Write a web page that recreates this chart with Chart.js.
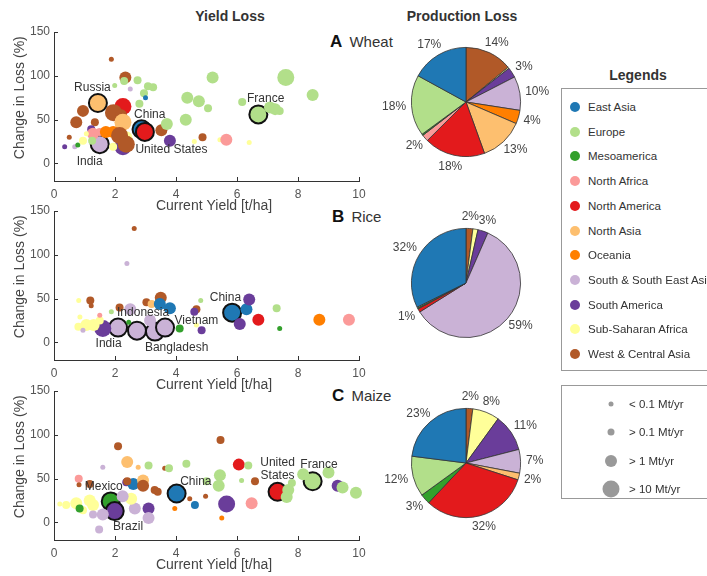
<!DOCTYPE html>
<html>
<head>
<meta charset="utf-8">
<script src="https://cdn.jsdelivr.net/npm/chart.js@4.4.0/dist/chart.umd.min.js"></script>
<style>
body { margin: 0; width: 707px; height: 576px; background: #fff; position: relative; overflow: hidden;
       font-family: "Liberation Sans", Arial, sans-serif; color: #222; }
canvas { position: absolute; }
.t { position: absolute; white-space: nowrap; transform: translate(-50%, -50%); }
.head { font-weight: bold; font-size: 14px; color: #333; }
.panel { position: absolute; white-space: nowrap; transform: translateY(-50%); font-size: 15px; color: #333; }
.panel b { font-size: 17px; color: #111; margin-right: 3px; }
.box { position: absolute; border: 1px solid #999; background: #fff; }
.item { position: absolute; white-space: nowrap; font-size: 11.5px; color: #333; transform: translateY(-50%); }
.dot { position: absolute; border-radius: 50%; transform: translate(-50%, -50%); }
</style>
</head>
<body>
<div class="t head" style="left:230px;top:16px">Yield Loss</div>
<div class="t head" style="left:462px;top:16px">Production Loss</div>
<div class="t head" style="left:638px;top:75px">Legends</div>
<div class="panel" style="left:330px;top:42px"><b>A</b> Wheat</div>
<div class="panel" style="left:332px;top:217px"><b>B</b> Rice</div>
<div class="panel" style="left:332px;top:396px"><b>C</b> Maize</div>

<canvas id="wheatScatter" width="370" height="195" style="left:0;top:20px"></canvas>
<canvas id="riceScatter" width="370" height="195" style="left:0;top:199px"></canvas>
<canvas id="maizeScatter" width="370" height="195" style="left:0;top:379px"></canvas>
<canvas id="wheatPie" width="180" height="180" style="left:376px;top:12px"></canvas>
<canvas id="ricePie" width="180" height="180" style="left:376px;top:193px"></canvas>
<canvas id="maizePie" width="180" height="180" style="left:376px;top:373px"></canvas>

<div class="box" id="regionBox" style="left:561px;top:88px;width:170px;height:281px"></div>
<div class="box" id="sizeBox" style="left:561px;top:385px;width:170px;height:112px"></div>

<script>
const regions = ['East Asia', 'Europe', 'Mesoamerica', 'North Africa', 'North America', 'North Asia',
    'Oceania', 'South & South East Asia', 'South America', 'Sub-Saharan Africa', 'West & Central Asia'];
const regionColors = ['#1f78b4', '#b2df8a', '#33a02c', '#fb9a99', '#e31a1c', '#fdbf6f',
    '#ff7f00', '#cab2d6', '#6a3d9a', '#ffff99', '#b15928'];

const sizeLabels = ['< 0.1 Mt/yr', '> 0.1 Mt/yr', '> 1 Mt/yr', '> 10 Mt/yr'];

const xTicks = [0, 2, 4, 6, 8, 10];
const yTicks = [0, 50, 100, 150];

// wheat: yield [t/ha], change in loss (%), size class 1-4, region index
const wheatYield = [1.88, 2.34, 1.99, 2.3, 2.74, 2.5, 3.08, 3.25, 2.95, 3.0, 2.8, 5.2, 7.6, 8.48, 4.37, 4.75, 5.05, 4.32,
    6.17, 7.08, 7.4, 7.25, 2.26, 1.95, 2.2, 0.95, 0.73, 1.34, 2.26, 3.52, 3.8, 3.7, 4.87, 4.6, 5.44, 5.65, 6.4, 2.26, 2.37,
    0.35, 0.5, 0.68, 0.78, 1.22, 1.28, 1.5, 1.7, 1.94, 2.15, 2.37, 1.06, 0.95, 1.94, 1.25];
const wheatLoss = [119, 98, 89, 94, 95, 85, 88, 87, 80, 75, 68, 98, 98, 78, 75, 71, 63, 50,
    70, 64, 60, 62, 65, 58, 55, 60, 47, 47, 47, 38, 26, 45, 30, 25, 27, 27, 24, 19, 30,
    19, 30, 19, 21, 39, 34, 36, 36, 36, 32, 22, 34, 26, 19, 26];
const wheatSize = [1, 3, 1, 2, 2, 1, 2, 2, 2, 1, 2, 3, 4, 3, 3, 3, 2, 3,
    2, 3, 2, 3, 4, 4, 3, 3, 3, 2, 4, 3, 3, 3, 2, 1, 1, 3, 1, 4, 3,
    1, 1, 1, 1, 2, 3, 2, 3, 3, 4, 4, 1, 2, 2, 2];
const wheatRegion = [10, 10, 1, 1, 1, 7, 1, 1, 1, 0, 1, 1, 1, 1, 1, 1, 1, 1,
    1, 1, 1, 1, 4, 10, 10, 10, 10, 10, 5, 10, 8, 1, 10, 9, 9, 3, 9, 8, 9,
    8, 10, 7, 2, 8, 3, 3, 6, 6, 10, 10, 9, 9, 9, 1];
const wheatKeyYield = [1.44, 2.87, 2.98, 1.5, 6.7];
const wheatKeyLoss = [69, 39, 36, 22, 56];
const wheatKeyRegion = [5, 0, 4, 7, 1];
const wheatNames = ['Russia', 'China', 'United States', 'India', 'France'];
const wheatNameX = [1.26, 3.14, 3.85, 1.17, 6.94];
const wheatNameY = [87, 56, 16, 2, 74];

// rice
const riceYield = [2.63, 2.39, 1.19, 1.22, 0.81, 2.15, 2.5, 3.03, 3.2, 3.5, 3.47, 3.8, 4.67, 4.6, 4.81, 6.31, 6.4, 6.09,
    6.7, 7.3, 7.4, 8.7, 9.67, 4.12, 4.84, 1.6, 1.06, 0.8, 0.85, 1.5, 0.95, 1.5, 1.88, 4.67, 2.45, 3.15, 1.3];
const riceLoss = [130, 90, 48, 42, 48, 40, 38, 46, 44, 51, 44, 39, 38, 35, 48, 38, 49, 21,
    26, 39, 16, 26, 26, 16, 14, 16, 20, 18, 29, 25, 14, 31, 35, 20, 23, 25, 20];
const riceSize = [1, 1, 2, 1, 1, 2, 3, 2, 2, 3, 3, 3, 2, 2, 1, 3, 3, 3,
    3, 2, 1, 3, 3, 2, 2, 4, 3, 2, 1, 2, 1, 1, 1, 1, 1, 3, 3];
const riceRegion = [10, 7, 10, 10, 9, 10, 7, 10, 5, 10, 0, 0, 10, 8, 1, 0, 8, 8,
    4, 1, 2, 6, 3, 2, 8, 8, 9, 9, 9, 9, 7, 3, 1, 9, 2, 7, 9];
const riceKeyYield = [2.1, 2.72, 3.31, 3.64, 5.84];
const riceKeyLoss = [17, 13.5, 12.4, 17, 34];
const riceKeyRegion = [7, 7, 7, 7, 0];
const riceNames = ['Indonesia', 'Vietnam', 'India', 'Bangladesh', 'China'];
const riceNameX = [2.92, 4.67, 1.79, 4.02, 5.62];
const riceNameY = [34, 24.4, -1, -6, 51.5];

// maize
const maizeYield = [2.1, 5.46, 2.4, 2.76, 1.6, 3.1, 3.63, 3.77, 4.34, 6.06, 6.37, 0.81, 0.82, 1.17, 2.37, 2.6, 2.92, 2.92,
    3.3, 3.4, 4.45, 4.97, 5.0, 5.44, 5.4, 4.62, 3.96, 5.5, 5.66, 6.48, 6.59, 6.15, 7.68, 7.63, 7.8, 8.17, 9.0, 9.3,
    9.46, 9.9, 3.1, 3.1, 2.65, 2.53, 1.48, 0.4, 0.73, 1.17, 1.28, 0.95, 0.84, 1.6, 1.28, 0.19, 2.4, 2.25];
const maizeLoss = [87, 94, 69, 63, 63, 65, 62, 62, 67, 66, 65, 50, 43, 44, 46, 44, 48, 42,
    37, 35, 27, 30, 47, 54, 42, 20, 16, 5, 21, 22, 47, 48, 37, 29, 45, 55, 57, 42,
    40, 34, 16, 5, 16, 27, -8, 20, 22, 25, 20, 14, 16, 9, 9, 21, 47, 30];
const maizeSize = [2, 2, 3, 1, 1, 2, 1, 2, 2, 3, 2, 2, 1, 2, 2, 3, 3, 3,
    2, 2, 1, 1, 2, 3, 3, 2, 1, 1, 4, 3, 2, 1, 3, 3, 2, 3, 3, 3,
    3, 3, 3, 3, 3, 3, 2, 2, 3, 3, 3, 2, 2, 3, 2, 1, 2, 3];
const maizeRegion = [10, 10, 5, 5, 7, 1, 10, 1, 1, 4, 1, 3, 10, 10, 8, 0, 5, 10,
    10, 10, 10, 10, 1, 1, 1, 0, 6, 6, 8, 3, 10, 1, 1, 1, 1, 1, 1, 8,
    1, 1, 8, 7, 7, 9, 7, 9, 9, 9, 9, 9, 2, 7, 7, 9, 10, 7];
const maizeKeyYield = [1.86, 1.99, 4.02, 7.33, 8.48];
const maizeKeyLoss = [24, 13, 33, 35, 47];
const maizeKeyRegion = [2, 8, 0, 4, 1];
const maizeNames = ['Mexico', 'Brazil', 'China', 'United\nStates', 'France'];
const maizeNameX = [1.63, 2.43, 4.65, 7.33, 8.69];
const maizeNameY = [40.5, -4.5, 47, 61, 66];

// production loss shares (%), in legend order
const wheatShare = [17, 18, 0.4, 2, 18, 13, 4, 10, 3, 0.4, 14];
const wheatShareText = ['17%', '18%', '', '2%', '18%', '13%', '4%', '10%', '3%', '', '14%'];
const riceShare = [32, 0.3, 0.3, 0, 1, 0, 0, 59, 3, 1.5, 2];
const riceShareText = ['32%', '', '', '', '1%', '', '', '59%', '3%', '', '2%'];
const maizeShare = [23, 12, 3, 0, 32, 2, 0, 7, 11, 8, 2];
const maizeShareText = ['23%', '12%', '3%', '', '32%', '2%', '', '7%', '11%', '8%', '2%'];

const sizeRadius = [0, 2.5, 4, 6, 8.5];
const keyRadius = 9;
const FONT = '"Liberation Sans", Arial, sans-serif';

const scatterDecor = {
    id: 'scatterDecor',
    afterDatasetsDraw(chart, args, opts) {
        const { ctx } = chart;
        const x = chart.scales.x, y = chart.scales.y;
        ctx.save();
        ctx.fillStyle = '#333';
        ctx.font = '12px ' + FONT;
        ctx.textAlign = 'center';
        ctx.textBaseline = 'middle';
        opts.names.forEach((n, i) => {
            const lines = n.split('\n');
            const px = x.getPixelForValue(opts.nameX[i]);
            const py = y.getPixelForValue(opts.nameY[i]);
            lines.forEach((l, j) => ctx.fillText(l, px, py + (j - (lines.length - 1) / 2) * 13));
        });
        ctx.restore();
    },
    afterDraw(chart) {
        const { ctx, chartArea: a } = chart;
        const x = chart.scales.x, y = chart.scales.y;
        ctx.save();
        ctx.strokeStyle = '#333';
        ctx.lineWidth = 1;
        ctx.beginPath();
        xTicks.forEach(v => {
            const px = Math.round(x.getPixelForValue(v)) + 0.5;
            ctx.moveTo(px, a.bottom);
            ctx.lineTo(px, a.bottom - 4);
        });
        yTicks.forEach(v => {
            const py = Math.round(y.getPixelForValue(v)) + 0.5;
            ctx.moveTo(a.left, py);
            ctx.lineTo(a.left + 4, py);
        });
        ctx.stroke();
        ctx.fillStyle = '#444';
        ctx.font = '14px ' + FONT;
        ctx.textAlign = 'center';
        ctx.textBaseline = 'middle';
        ctx.fillText('Current Yield [t/ha]', a.left + 160, a.bottom + 25);
        ctx.translate(20, y.getPixelForValue(75));
        ctx.rotate(-Math.PI / 2);
        ctx.fillText('Change in Loss (%)', 0, 0);
        ctx.restore();
    }
};

function makeScatter(id, xs, ys, sizes, regs, keyX, keyY, keyReg, names, nameX, nameY) {
    const points = xs.map((v, i) => ({ x: v, y: ys[i], r: sizeRadius[sizes[i]] }));
    const keys = keyX.map((v, i) => ({ x: v, y: keyY[i], r: keyRadius }));
    new Chart(document.getElementById(id), {
        type: 'bubble',
        data: {
            datasets: [{
                data: points,
                backgroundColor: regs.map(r => regionColors[r]),
                borderWidth: 0,
                clip: false,
            }, {
                data: keys,
                backgroundColor: keyReg.map(r => regionColors[r]),
                borderColor: '#111',
                borderWidth: 2,
                clip: false,
            }],
        },
        options: {
            responsive: false,
            animation: false,
            layout: { padding: { top: 12, right: 11, left: 0, bottom: 0 } },
            plugins: {
                legend: { display: false },
                tooltip: { enabled: false },
                scatterDecor: { names: names, nameX: nameX, nameY: nameY },
            },
            scales: {
                x: {
                    type: 'linear', min: 0, max: 10,
                    afterBuildTicks: s => { s.ticks = xTicks.map(v => ({ value: v })); },
                    afterFit: s => { s.height = 34; s.paddingLeft = 0; s.paddingRight = 0; },
                    grid: { display: false, drawTicks: false },
                    border: { color: '#333', width: 1 },
                    ticks: { color: '#555', font: { size: 12, family: FONT }, padding: 6, maxRotation: 0 },
                },
                y: {
                    type: 'linear', min: -20, max: 150,
                    afterBuildTicks: s => { s.ticks = yTicks.map(v => ({ value: v })); },
                    afterFit: s => { s.width = 54; s.paddingTop = 0; s.paddingBottom = 0; },
                    grid: { display: false, drawTicks: false },
                    border: { color: '#333', width: 1 },
                    ticks: { color: '#555', font: { size: 12, family: FONT }, padding: 4 },
                },
            },
        },
        plugins: [scatterDecor],
    });
}

const pieText = {
    id: 'pieText',
    afterDatasetsDraw(chart, args, opts) {
        const { ctx } = chart;
        ctx.save();
        ctx.font = '12px ' + FONT;
        ctx.fillStyle = '#444';
        ctx.textAlign = 'center';
        ctx.textBaseline = 'middle';
        chart.getDatasetMeta(0).data.forEach((arc, i) => {
            const t = opts.text[i];
            if (!t) return;
            const mid = (arc.startAngle + arc.endAngle) / 2;
            const c = Math.cos(mid), s = Math.sin(mid);
            const r = arc.outerRadius * 1.1;
            const w = ctx.measureText(t).width;
            ctx.fillText(t, arc.x + c * r + c * w / 2, arc.y + s * r + s * 6);
        });
        ctx.restore();
    }
};

function makePie(id, share, text) {
    // drawn clockwise from the top, in reverse legend order
    const vals = share.slice().reverse();
    new Chart(document.getElementById(id), {
        type: 'pie',
        data: {
            datasets: [{
                data: vals,
                backgroundColor: regionColors.slice().reverse(),
                borderColor: '#333',
                borderWidth: vals.map(v => v > 0 ? 0.8 : 0),
            }],
        },
        options: {
            responsive: false,
            animation: false,
            layout: { padding: 35 },
            plugins: {
                legend: { display: false },
                tooltip: { enabled: false },
                pieText: { text: text.slice().reverse() },
            },
        },
        plugins: [pieText],
    });
}

makeScatter('wheatScatter', wheatYield, wheatLoss, wheatSize, wheatRegion,
    wheatKeyYield, wheatKeyLoss, wheatKeyRegion, wheatNames, wheatNameX, wheatNameY);
makeScatter('riceScatter', riceYield, riceLoss, riceSize, riceRegion,
    riceKeyYield, riceKeyLoss, riceKeyRegion, riceNames, riceNameX, riceNameY);
makeScatter('maizeScatter', maizeYield, maizeLoss, maizeSize, maizeRegion,
    maizeKeyYield, maizeKeyLoss, maizeKeyRegion, maizeNames, maizeNameX, maizeNameY);
makePie('wheatPie', wheatShare, wheatShareText);
makePie('ricePie', riceShare, riceShareText);
makePie('maizePie', maizeShare, maizeShareText);

// legends
const regionBox = document.getElementById('regionBox');
regions.forEach((name, i) => {
    const yy = 18 + i * 24.7;
    regionBox.insertAdjacentHTML('beforeend',
        `<div class="dot" style="left:13px;top:${yy}px;width:10px;height:10px;background:${regionColors[i]}"></div>` +
        `<div class="item" style="left:26px;top:${yy}px">${name.replace('&', '&amp;')}</div>`);
});
const sizeBox = document.getElementById('sizeBox');
sizeLabels.forEach((name, i) => {
    const yy = 18 + i * 28.3;
    const d = 2 * [2.5, 3.5, 6, 8.5][i];
    sizeBox.insertAdjacentHTML('beforeend',
        `<div class="dot" style="left:49px;top:${yy}px;width:${d}px;height:${d}px;background:#999"></div>` +
        `<div class="item" style="left:67px;top:${yy}px">${name.replace('<', '&lt;').replace('>', '&gt;')}</div>`);
});
</script>
</body>
</html>
